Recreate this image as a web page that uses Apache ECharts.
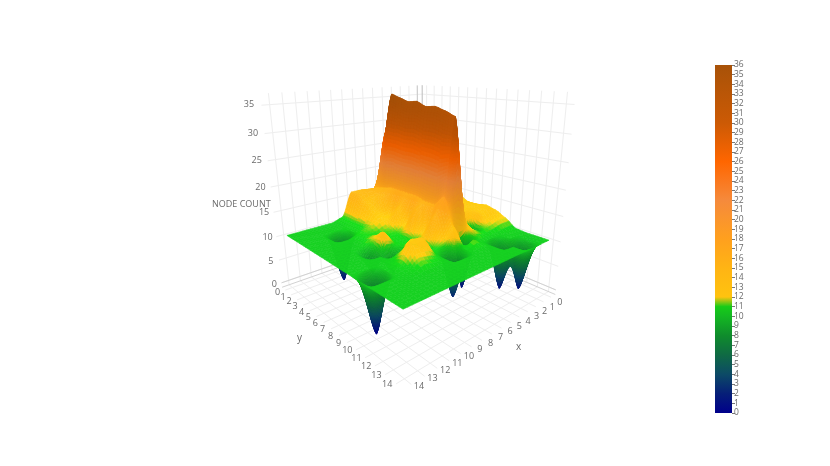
<!DOCTYPE html>
<html>
<head>
<meta charset="utf-8">
<title>Node count surface</title>
<script src="https://cdn.jsdelivr.net/npm/echarts@6/dist/echarts.min.js"></script>
<style>
  html, body { margin: 0; padding: 0; background: #fff; }
  #chart { width: 830px; height: 466px; filter: blur(0.35px); }
</style>
</head>
<body>
<div id="chart"></div>
<script>
// x / y / z ticks
const xTicks = [0, 1, 2, 3, 4, 5, 6, 7, 8, 9, 10, 11, 12, 13, 14]
const yTicks = [0, 1, 2, 3, 4, 5, 6, 7, 8, 9, 10, 11, 12, 13, 14]
const zTicks = [0, 5, 10, 15, 20, 25, 30, 35]

// node count, one row per x, one value per y
const row0 = [13.5, 13.5, 14, 14, 14, 14, 13, 13, 13.5, 13, 12, 10.5, 10.3, 10.3, 10.3]
const row1 = [14, 14, 14, 14, 14, 14, 14, 14, 14, 14, 12, 10.5, 10.3, 9.8, 10.3]
const row2 = [14, 14, 14, 14, 14, 14, 14, 14, 14, 13.5, 11.5, 10.3, 10.3, 1, 10.3]
const row3 = [14, 14, 14, 14, 14, 14, 14, 14, 13.5, 6.5, 11, 10.3, 1, 10.3, 10.3]
const row4 = [14, 14, 14, 14, 14, 14, 14, 14, 14, 13.5, 12, 10.3, 10.3, 10.3, 10.3]
const row5 = [14.5, 28, 36, 35.4, 34.8, 35, 34.2, 34.4, 33.8, 33, 1, 11.5, 10.3, 10.3, 10.3]
const row6 = [15.5, 16.5, 17, 17.5, 17.5, 17.5, 17.5, 17, 17, 19, 14, 10.5, 10.3, 10.3, 10.3]
const row7 = [16, 16.5, 15.5, 16, 12.5, 15, 12, 16, 12, 16, 11.5, 2, 10.3, 10.3, 10.3]
const row8 = [16, 16, 15, 14, 13, 11.5, 11, 10.8, 10.8, 10.6, 10.6, 10.3, 10.3, 10.3, 10.3]
const row9 = [11, 11, 11, 11, 11.5, 11, 11, 10.8, 11, 13, 14, 11, 10.3, 10.3, 10.3]
const row10 = [10.3, 10.3, 10.5, 10.5, 11, 11, 12, 13.5, 6.5, 11.5, 14, 11.5, 10.3, 10.3, 10.3]
const row11 = [10.3, 10.3, 10.3, 1, 10.3, 10.3, 10.5, 6.5, 10.3, 10.5, 11, 10.5, 10.3, 10.3, 10.3]
const row12 = [10.3, 10.3, 10.3, 10.3, 10.3, 10.3, 10.3, 10.3, 10.3, 10.3, 10.3, 10.3, 10.3, 10.3, 10.3]
const row13 = [10.3, 10.3, 10.3, 10.3, 10.3, 10.3, 10.3, 10.3, 10.3, 10.3, 0, 10.3, 10.3, 10.3, 10.3]
const row14 = [10.3, 10.3, 10.3, 10.3, 10.3, 10.3, 10.3, 10.3, 10.3, 10.3, 10.3, 10.3, 10.3, 10.3, 10.3]
const nodeCount = [row0, row1, row2, row3, row4, row5, row6, row7, row8, row9, row10, row11, row12, row13, row14]

// colour scale
const scaleValues = [0, 2, 4, 6, 8, 10, 11, 12, 15, 18, 22, 26, 30, 36]
const scaleColors = ['#00008b', '#061f78', '#0c4a66', '#0f6a44', '#0f8c2c', '#14b822', '#16cc18', '#ffc30f', '#ffb414', '#ffa01e', '#f58a3c', '#ff6600', '#cc5a05', '#a85208']

// camera, the box is a bit wider than the tick range
const cam = { az: 49, el: 17.5, dist: 4.5, focal: 430, cx: 415, cy: 199, roll: 0.5, height: 1.08, zMin: -1, zMax: 37 }
const boxMin = -0.6
const boxMax = 14.6
const azr = cam.az * Math.PI / 180
const elr = cam.el * Math.PI / 180
const rollr = cam.roll * Math.PI / 180

function project(x, y, z) {
  const X = x / 14 * 2 - 1
  const Y = y / 14 * 2 - 1
  const Z = ((z - cam.zMin) / (cam.zMax - cam.zMin) * 2 - 1) * cam.height
  const r = -Math.sin(azr) * X + Math.cos(azr) * Y
  const u = -Math.sin(elr) * Math.cos(azr) * X - Math.sin(elr) * Math.sin(azr) * Y + Math.cos(elr) * Z
  const c = Math.cos(elr) * Math.cos(azr) * X + Math.cos(elr) * Math.sin(azr) * Y + Math.sin(elr) * Z
  const depth = cam.dist - c
  const sx = cam.focal * r / depth
  const sy = -cam.focal * u / depth
  return {
    px: [cam.cx + sx * Math.cos(rollr) + sy * Math.sin(rollr), cam.cy - sx * Math.sin(rollr) + sy * Math.cos(rollr)],
    depth: depth
  }
}

function hexRgb(h) {
  return [parseInt(h.slice(1, 3), 16), parseInt(h.slice(3, 5), 16), parseInt(h.slice(5, 7), 16)]
}

function colorAt(v, shade) {
  let i = 0
  while (i < scaleValues.length - 2 && v > scaleValues[i + 1]) i++
  const t = Math.max(0, Math.min(1, (v - scaleValues[i]) / (scaleValues[i + 1] - scaleValues[i])))
  const a = hexRgb(scaleColors[i])
  const b = hexRgb(scaleColors[i + 1])
  const c = a.map((p, k) => Math.min(255, Math.round((p + (b[k] - p) * t) * shade)))
  return 'rgb(' + c.join(',') + ')'
}

// smoothed sampling between the grid values, only used to draw the surface finer
function ease(t) {
  const s = t * t * (3 - 2 * t)
  return t * 0.4 + s * 0.6
}

function sample(x, y) {
  const i = Math.min(13, Math.floor(x))
  const j = Math.min(13, Math.floor(y))
  const u = ease(x - i)
  const v = ease(y - j)
  const a = nodeCount[i][j] * (1 - v) + nodeCount[i][j + 1] * v
  const b = nodeCount[i + 1][j] * (1 - v) + nodeCount[i + 1][j + 1] * v
  return a * (1 - u) + b * u
}

// cells are split by how steep they are, so tall walls get a smooth colour run
const quads = []
for (let i = 0; i < 14; i++) {
  for (let j = 0; j < 14; j++) {
    const v00 = nodeCount[i][j], v10 = nodeCount[i + 1][j], v01 = nodeCount[i][j + 1], v11 = nodeCount[i + 1][j + 1]
    const stepX = Math.max(Math.abs(v10 - v00), Math.abs(v11 - v01))
    const stepY = Math.max(Math.abs(v01 - v00), Math.abs(v11 - v10))
    const nx = Math.max(3, Math.min(34, Math.ceil(stepX / 0.6)))
    const ny = Math.max(3, Math.min(34, Math.ceil(stepY / 0.6)))
    for (let a = 0; a < nx; a++) {
      for (let b = 0; b < ny; b++) {
        const x0 = i + a / nx, x1 = i + (a + 1) / nx, y0 = j + b / ny, y1 = j + (b + 1) / ny
        const pts = [[x0, y0], [x1, y0], [x1, y1], [x0, y1]].map(p => [p[0], p[1], sample(p[0], p[1])])
        const mid = (pts[0][2] + pts[1][2] + pts[2][2] + pts[3][2]) / 4
        // slope against the flat plate gives a simple lighting
        const dzx = (pts[1][2] + pts[2][2] - pts[0][2] - pts[3][2]) / 2 / (x1 - x0)
        const dzy = (pts[2][2] + pts[3][2] - pts[0][2] - pts[1][2]) / 2 / (y1 - y0)
        const flat = 1 / Math.sqrt(1 + (dzx * dzx + dzy * dzy) / 16)
        quads.push({
          pts: pts,
          fill: colorAt(mid, 0.88 + 0.22 * flat),
          depth: project((x0 + x1) / 2, (y0 + y1) / 2, mid).depth
        })
      }
    }
  }
}
quads.sort((p, q) => q.depth - p.depth)

// box lines: [x0, y0, z0, x1, y1, z1, colour]
const GRID = '#eeeeee'
const EDGE = '#d2d2d2'
const boxLines = []
function addLine(x0, y0, z0, x1, y1, z1, color) {
  boxLines.push([x0, y0, z0, x1, y1, z1, color])
}
xTicks.forEach(t => {
  addLine(t, boxMin, cam.zMin, t, boxMax, cam.zMin, GRID)
  addLine(t, boxMin, cam.zMin, t, boxMin, cam.zMax, GRID)
})
yTicks.forEach(t => {
  addLine(boxMin, t, cam.zMin, boxMax, t, cam.zMin, GRID)
  addLine(boxMin, t, cam.zMin, boxMin, t, cam.zMax, GRID)
})
zTicks.forEach(t => {
  addLine(boxMin, boxMin, t, boxMax, boxMin, t, GRID)
  addLine(boxMin, boxMin, t, boxMin, boxMax, t, GRID)
})
addLine(boxMin, boxMin, 0, boxMax, boxMin, 0, EDGE)
addLine(boxMin, boxMin, 0, boxMin, boxMax, 0, EDGE)
addLine(boxMin, boxMin, cam.zMin, boxMax, boxMin, cam.zMin, EDGE)
addLine(boxMin, boxMin, cam.zMin, boxMin, boxMax, cam.zMin, EDGE)
addLine(boxMin, boxMin, cam.zMin, boxMin, boxMin, cam.zMax, '#bdbdbd')
addLine(0, boxMin, cam.zMin, 0, boxMin, cam.zMax, '#c8c8c8')

// text around the box: [label, x, y, z, dx, dy]
const boxText = []
xTicks.forEach(t => boxText.push([String(t), t + 0.2, 15.3, cam.zMin, 2, 1 - t * 0.55]))
yTicks.forEach(t => boxText.push([String(t), 15.3, t + 0.1, cam.zMin, 0, -1 - t * 0.4]))
zTicks.forEach(t => boxText.push([String(t), boxMax, -1.6, t, -2 - t * 0.14, 6 - t * 0.16]))

const GREY = '#6a6a6a'
const chart = echarts.init(document.getElementById('chart'))
chart.setOption({
  animation: false,
  backgroundColor: '#fff',
  grid: [
    { left: 0, top: 0, width: 830, height: 466, show: false },
    { left: 715, top: 65, width: 17, height: 348, show: false }
  ],
  xAxis: [
    { type: 'value', gridIndex: 0, min: 0, max: 830, show: false },
    { type: 'category', gridIndex: 1, data: [''], show: false }
  ],
  yAxis: [
    { type: 'value', gridIndex: 0, min: 0, max: 466, inverse: true, show: false },
    {
      type: 'value', gridIndex: 1, min: 0, max: 36, interval: 1, position: 'right',
      axisLine: { show: false },
      axisTick: { show: true, length: 3, lineStyle: { color: '#777', width: 1 } },
      splitLine: { show: false },
      axisLabel: { fontFamily: 'Open Sans', fontSize: 8.5, color: GREY, margin: 2, showMinLabel: true, showMaxLabel: true }
    }
  ],
  series: [
    {
      type: 'bar',
      xAxisIndex: 1,
      yAxisIndex: 1,
      barWidth: '100%',
      data: [36],
      silent: true,
      itemStyle: {
        color: new echarts.graphic.LinearGradient(0, 1, 0, 0,
          scaleValues.map((v, i) => ({ offset: v / 36, color: scaleColors[i] })))
      }
    },
    {
      type: 'custom',
      coordinateSystem: 'cartesian2d',
      xAxisIndex: 0,
      yAxisIndex: 0,
      z: 1,
      silent: true,
      clip: false,
      progressive: 0,
      data: boxLines.map((l, i) => [i]),
      renderItem(params, api) {
        const l = boxLines[params.dataIndex]
        const a = api.coord(project(l[0], l[1], l[2]).px)
        const b = api.coord(project(l[3], l[4], l[5]).px)
        return {
          type: 'line',
          shape: { x1: a[0], y1: a[1], x2: b[0], y2: b[1] },
          style: { stroke: l[6], lineWidth: 1, fill: null }
        }
      }
    },
    {
      type: 'custom',
      coordinateSystem: 'cartesian2d',
      xAxisIndex: 0,
      yAxisIndex: 0,
      z: 2,
      silent: true,
      clip: false,
      progressive: 0,
      data: quads.map((q, i) => [i]),
      renderItem(params, api) {
        const q = quads[params.dataIndex]
        return {
          type: 'polygon',
          shape: { points: q.pts.map(p => api.coord(project(p[0], p[1], p[2]).px)) },
          style: { fill: q.fill, stroke: q.fill, lineWidth: 0.6 }
        }
      }
    },
    {
      type: 'custom',
      coordinateSystem: 'cartesian2d',
      xAxisIndex: 0,
      yAxisIndex: 0,
      z: 3,
      silent: true,
      clip: false,
      progressive: 0,
      data: boxText.map((l, i) => [i]),
      renderItem(params, api) {
        const l = boxText[params.dataIndex]
        const a = api.coord(project(l[1], l[2], l[3]).px)
        return {
          type: 'text',
          x: a[0] + l[4],
          y: a[1] + l[5],
          style: { text: l[0], fill: GREY, fontFamily: 'Open Sans', fontSize: 9, align: 'center', verticalAlign: 'middle' }
        }
      }
    }
  ],
  graphic: [
    { type: 'text', left: 212, top: 200, style: { text: 'NODE COUNT', fill: GREY, fontFamily: 'Open Sans', fontSize: 9 } },
    { type: 'text', left: 516, top: 342, style: { text: 'x', fill: GREY, fontFamily: 'Open Sans', fontSize: 10 } },
    { type: 'text', left: 297, top: 333, style: { text: 'y', fill: GREY, fontFamily: 'Open Sans', fontSize: 10 } }
  ]
})
</script>
</body>
</html>
